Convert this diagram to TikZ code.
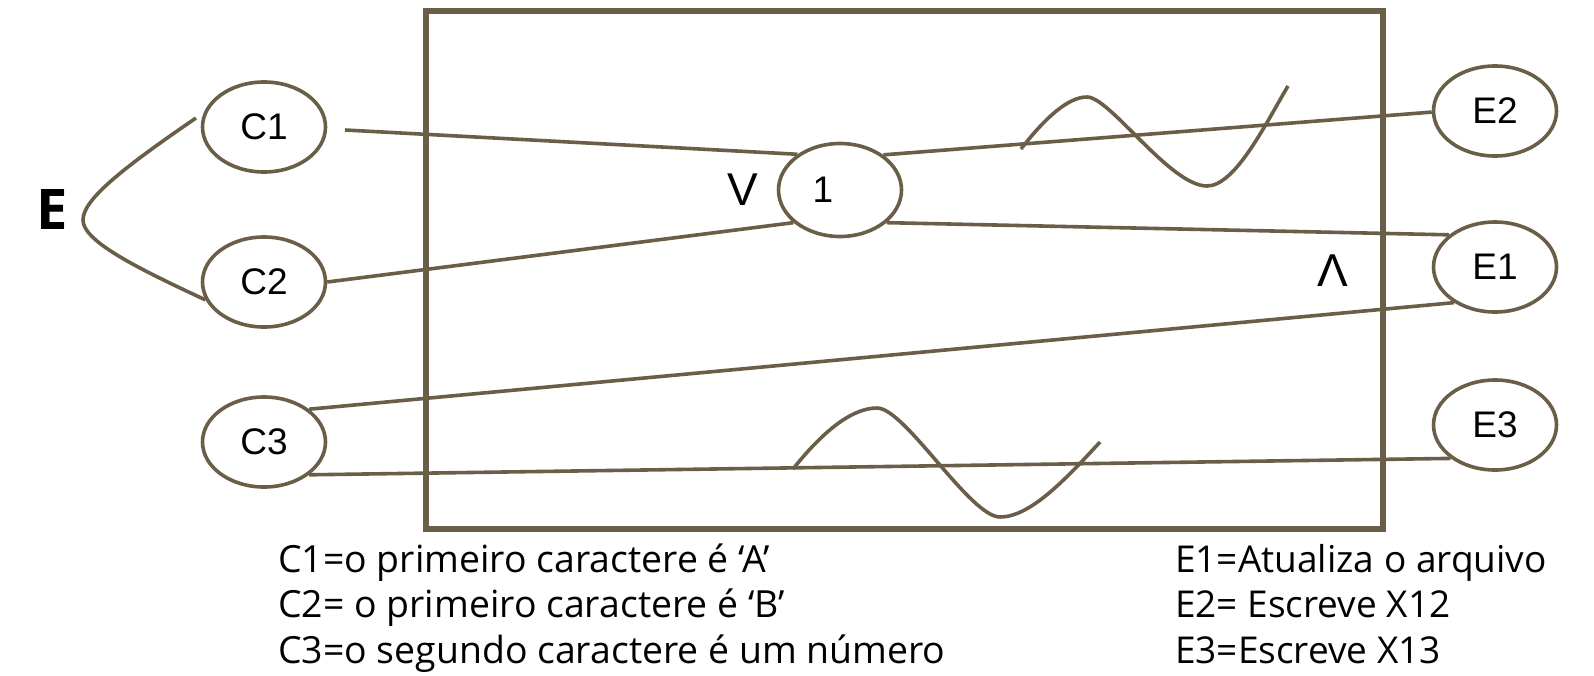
\documentclass[tikz,border=0pt]{standalone}
\usepackage{fontspec}
\setmainfont{Liberation Sans}
\newfontfamily\osans{Open Sans}
\usetikzlibrary{shapes.geometric}
\definecolor{lc}{RGB}{107,94,72}
\begin{document}
\begin{tikzpicture}[x=1pt,y=-1pt,
  ell/.style={ellipse,draw=lc,line width=3.6pt,minimum width=123pt,minimum height=90pt,inner sep=0pt,
    font=\fontsize{37}{42}\selectfont},
  conn/.style={draw=lc,line width=3.6pt},
  leg/.style={anchor=base west,inner sep=0pt,font=\osans\fontsize{37}{45}\selectfont},
  sym/.style={inner sep=0pt,font=\fontsize{46}{50}\selectfont}]
\useasboundingbox (0,0) rectangle (1594,675);
\fill[white] (0,0) rectangle (1594,675);
% frame
\draw[lc,line width=5.5pt] (426,11) rectangle (1383,529);
% nodes
\node[ell] (C1) at (264,127) {C1};
\node[ell] (C2) at (264,282) {C2};
\node[ell] (C3) at (264,442) {C3};
\node[ell,minimum height=93pt] (n1) at (840,190) {\makebox[0pt]{1\kern34pt}};
\node[ell] (E2) at (1495,111) {E2};
\node[ell] (E1) at (1495,267) {E1};
\node[ell] (E3) at (1495,425) {E3};
\node[inner sep=0pt,font=\osans\bfseries\fontsize{56}{60}\selectfont] (E) at (52,210) {E};
\node[sym] (or) at (743,190) {V};
\node[sym] (and) at (1333,271) {Λ};
% free ends
\coordinate (c1s) at (345,130);
\coordinate (bs) at (196,118);
% connectors
\draw[conn] (c1s) -- (n1.140);
\draw[conn] (C2.east) -- (n1.215);
\draw[conn] (n1.39) -- (E2.181);
\draw[conn] (n1.325) -- (E1.145);
\draw[conn] (C3.36) -- (E1.221);
\draw[conn] (C3.324) -- (E3.217);
\draw[conn] (bs) .. controls (120,170) and (83,200) .. (83,220) .. controls (83,240) and (130,265) .. (C2.197);
% sine marks
\draw[conn] (1021,149) .. controls (1045,118) and (1068,97) .. (1087,97)
  .. controls (1110,97) and (1170,186) .. (1207,186)
  .. controls (1235,186) and (1265,125) .. (1288,86);
\draw[conn] (793,469) .. controls (820,435) and (850,408) .. (877,408)
  .. controls (905,408) and (970,517) .. (1000,517)
  .. controls (1030,517) and (1065,480) .. (1100,442);
% legends
\node[leg,font=\osans\fontsize{37.4}{45}\selectfont] (l1) at (278,572) {C1=o primeiro caractere é ‘A’};
\node[leg,font=\osans\fontsize{37.4}{45}\selectfont] (l2) at (278,617.5) {C2= o primeiro caractere é ‘B’};
\node[leg,font=\osans\fontsize{37.4}{45}\selectfont] (l3) at (278,663) {C3=o segundo caractere é um número};
\node[leg] (r1) at (1175,572) {E1=Atualiza o arquivo};
\node[leg] (r2) at (1175,617.5) {E2= Escreve X12};
\node[leg] (r3) at (1175,663) {E3=Escreve X13};
\end{tikzpicture}
\end{document}
